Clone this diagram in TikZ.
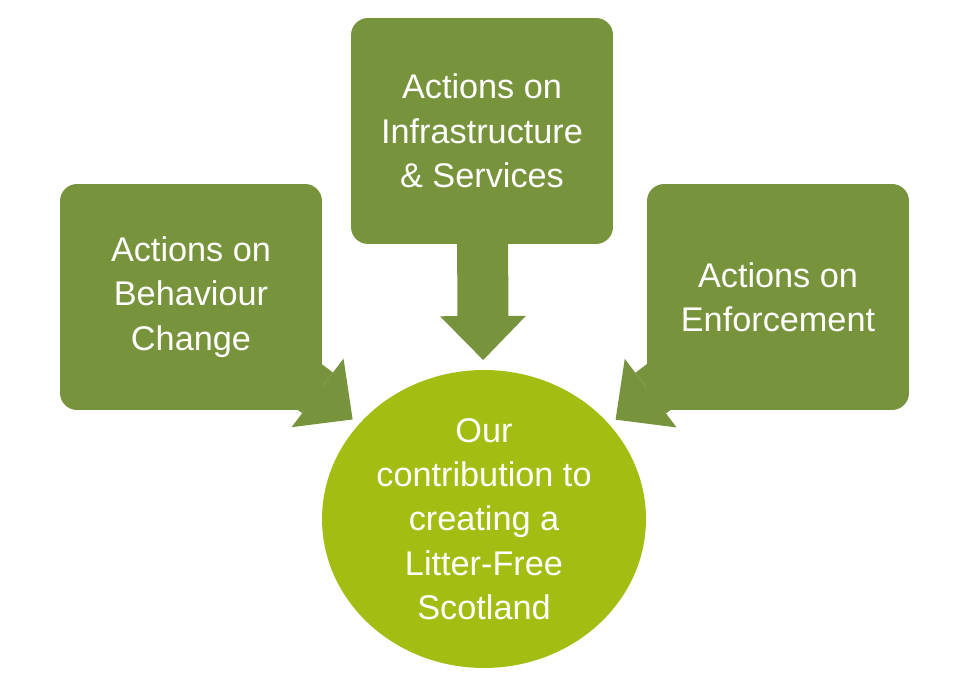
\documentclass[tikz,border=0pt]{standalone}
\usepackage{fontspec}
\setmainfont{Liberation Sans}
\usetikzlibrary{arrows.meta,shapes.geometric,backgrounds}
\definecolor{actiongreen}{HTML}{77933C}
\definecolor{goalgreen}{HTML}{A3BD13}
\begin{document}
\begin{tikzpicture}[x=0.02cm,y=-0.02cm,
  font=\fontsize{19.5}{25.2}\selectfont,
  action/.style={rectangle,rounded corners=0.34cm,fill=actiongreen,text=white,
    minimum width=5.24cm,minimum height=4.52cm,align=center,inner sep=0pt,outer sep=0pt},
  goalnode/.style={ellipse,fill=goalgreen,text=white,minimum width=6.48cm,
    minimum height=5.96cm,align=center,inner sep=0pt,outer sep=0pt},
  blockarrow/.style={actiongreen,line width=1.02cm,
    -{Triangle[width=1.72cm,length=0.88cm,line width=0pt]}}]
 \useasboundingbox (0,0) rectangle (966,692);
 \node[action] (behav) at (191,297) {Actions on\\Behaviour\\Change};
 \node[action] (infra) at (482,131) {Actions on\\Infrastructure\\\& Services};
 \node[action] (enforce) at (778,297) {Actions on\\Enforcement};
 \node[goalnode] (goal) at (484,519) {Our\\contribution to\\creating a\\Litter-Free\\Scotland};
 \begin{scope}[on background layer]
 \foreach\n/\s in{behav/0.16,infra/0.2,enforce/0.16}
   {\draw[blockarrow,shorten >=\s cm](\n.center)--(goal);}
 \end{scope}
\end{tikzpicture}
\end{document}
